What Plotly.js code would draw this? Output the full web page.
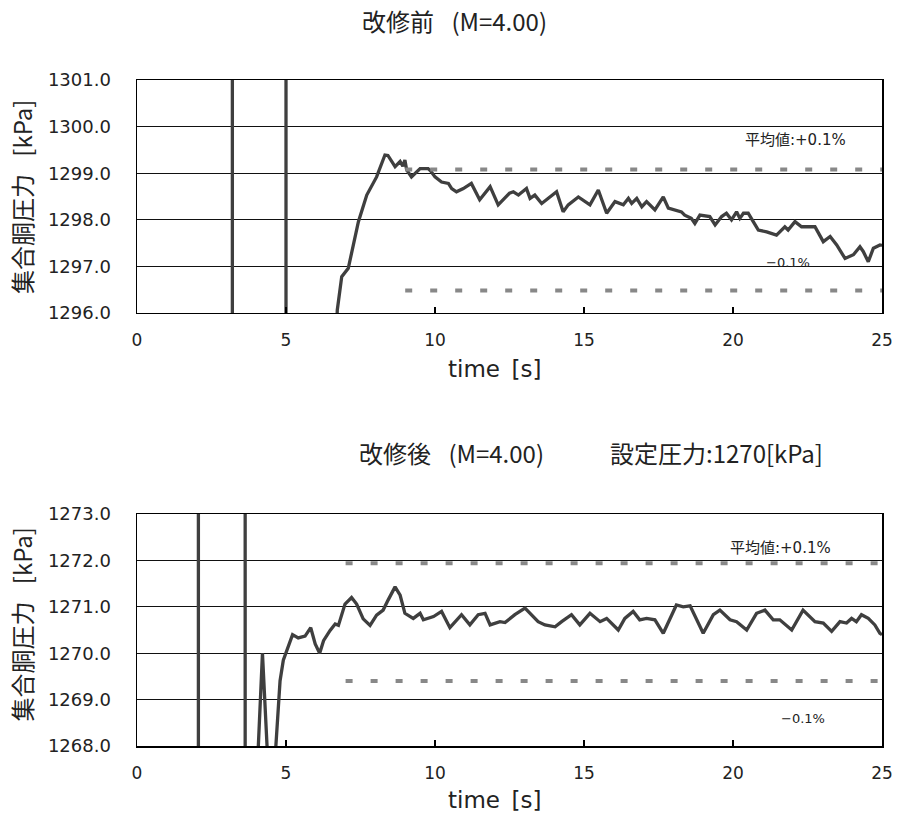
<!DOCTYPE html>
<html>
<head>
<meta charset="utf-8">
<script src="https://cdn.plot.ly/plotly-3.0.1.min.js"></script>
<style>html,body{margin:0;padding:0;background:#fff;}#chart{width:900px;height:823px;}</style>
</head>
<body>
<div id="chart"></div>
<script>
// ---- Top chart (改修前) data ---- (null = gap where the signal is off-scale)
const topTime = [3.2, 3.2, null, 5.0, 5.0, null, 6.70, 6.72, 6.87, 7.09, 7.43, 7.71, 8.04, 8.32, 8.42, 8.66, 8.83, 8.92, 8.99, 9.05, 9.21, 9.5, 9.77, 9.85, 10.0, 10.22, 10.45, 10.56, 10.72, 10.95, 11.22, 11.5, 11.85, 12.12, 12.5, 12.63, 12.8, 13.07, 13.19, 13.35, 13.58, 13.8, 14.08, 14.3, 14.47, 14.81, 15.2, 15.48, 15.76, 16.04, 16.32, 16.49, 16.6, 16.77, 16.94, 17.1, 17.38, 17.66, 17.83, 18.27, 18.38, 18.6, 18.72, 18.89, 19.22, 19.4, 19.62, 19.78, 19.95, 20.12, 20.23, 20.35, 20.51, 20.68, 20.85, 21.13, 21.46, 21.74, 21.85, 22.08, 22.3, 22.52, 22.75, 23.03, 23.26, 23.48, 23.76, 24.04, 24.26, 24.37, 24.54, 24.71, 24.93, 25.0];
const topPressure = [1295.5, 1301.5, null, 1301.5, 1295.5, null, 1295.5, 1296.06, 1296.78, 1296.96, 1297.96, 1298.53, 1298.92, 1299.39, 1299.38, 1299.14, 1299.25, 1299.15, 1299.28, 1299.07, 1298.92, 1299.1, 1299.1, 1299.05, 1298.92, 1298.81, 1298.78, 1298.67, 1298.6, 1298.67, 1298.78, 1298.43, 1298.71, 1298.32, 1298.57, 1298.6, 1298.53, 1298.67, 1298.46, 1298.53, 1298.35, 1298.46, 1298.6, 1298.17, 1298.32, 1298.49, 1298.32, 1298.64, 1298.14, 1298.39, 1298.32, 1298.46, 1298.35, 1298.46, 1298.28, 1298.39, 1298.21, 1298.49, 1298.25, 1298.17, 1298.1, 1298.03, 1297.92, 1298.1, 1298.07, 1297.89, 1298.07, 1298.14, 1298.0, 1298.17, 1298.03, 1298.14, 1298.14, 1297.96, 1297.78, 1297.74, 1297.67, 1297.85, 1297.78, 1297.96, 1297.85, 1297.85, 1297.85, 1297.53, 1297.64, 1297.46, 1297.17, 1297.25, 1297.42, 1297.32, 1297.1, 1297.39, 1297.46, 1297.45];
const topBandTime = [9.0, 25.0];
const topUpper = [1299.08, 1299.08];
const topLower = [1296.48, 1296.48];

// ---- Bottom chart (改修後) data ----
const botTime = [2.06, 2.06, null, 3.63, 3.63, null, 4.03, 4.21, 4.41, null, 4.60, 4.8, 4.91, 5.08, 5.22, 5.41, 5.64, 5.83, 5.98, 6.13, 6.26, 6.48, 6.65, 6.76, 6.98, 7.2, 7.37, 7.59, 7.82, 8.04, 8.26, 8.43, 8.66, 8.83, 8.99, 9.27, 9.5, 9.61, 9.95, 10.22, 10.5, 10.89, 11.17, 11.45, 11.68, 11.85, 12.18, 12.35, 12.68, 13.02, 13.24, 13.46, 13.69, 14.03, 14.25, 14.58, 14.86, 15.2, 15.54, 15.76, 16.15, 16.37, 16.65, 16.87, 17.1, 17.38, 17.66, 18.1, 18.33, 18.56, 19.0, 19.34, 19.56, 19.9, 20.12, 20.46, 20.79, 21.07, 21.35, 21.57, 21.97, 22.35, 22.75, 23.03, 23.31, 23.59, 23.81, 23.98, 24.14, 24.31, 24.54, 24.76, 24.93, 25.0];
const botPressure = [1267.5, 1273.5, null, 1273.5, 1267.5, null, 1267.4, 1270.0, 1267.4, null, 1267.4, 1269.4, 1269.85, 1270.14, 1270.4, 1270.33, 1270.37, 1270.55, 1270.2, 1270.0, 1270.27, 1270.49, 1270.63, 1270.6, 1271.06, 1271.2, 1271.06, 1270.74, 1270.6, 1270.82, 1270.93, 1271.15, 1271.43, 1271.25, 1270.86, 1270.75, 1270.86, 1270.72, 1270.79, 1270.9, 1270.55, 1270.83, 1270.61, 1270.83, 1270.86, 1270.61, 1270.68, 1270.66, 1270.83, 1270.97, 1270.83, 1270.68, 1270.61, 1270.57, 1270.68, 1270.83, 1270.61, 1270.86, 1270.68, 1270.75, 1270.5, 1270.75, 1270.9, 1270.72, 1270.75, 1270.72, 1270.43, 1271.04, 1271.0, 1271.02, 1270.43, 1270.83, 1270.93, 1270.72, 1270.68, 1270.5, 1270.86, 1270.93, 1270.72, 1270.72, 1270.5, 1270.93, 1270.68, 1270.65, 1270.47, 1270.68, 1270.65, 1270.75, 1270.68, 1270.83, 1270.75, 1270.61, 1270.43, 1270.4];
const botBandTime = [7.0, 25.0];
const botUpper = [1271.94, 1271.94];
const botLower = [1269.40, 1269.40];

// ---- Tick labels ----
const xTickVals = [0, 5, 10, 15, 20, 25];
const xTickText = ['0', '5', '10', '15', '20', '25'];
const topYTickVals = [1296, 1297, 1298, 1299, 1300, 1301];
const topYTickText = ['1296.0', '1297.0', '1298.0', '1299.0', '1300.0', '1301.0'];
const botYTickVals = [1268, 1269, 1270, 1271, 1272, 1273];
const botYTickText = ['1268.0', '1269.0', '1270.0', '1271.0', '1272.0', '1273.0'];

const JP = '"Noto Sans CJK JP", "DejaVu Sans", sans-serif';
const MIX = '"DejaVu Sans", "Noto Sans CJK JP", sans-serif';
const NUM = '"DejaVu Sans", sans-serif';
const curveColor = '#3f3f3f';
const bandColor = '#888888';
const bandDash = '7px,18px';

const traces = [
  {x: topTime, y: topPressure, xaxis: 'x', yaxis: 'y', mode: 'lines', connectgaps: false, line: {color: curveColor, width: 3.3}, hoverinfo: 'skip'},
  {x: topBandTime, y: topUpper, xaxis: 'x', yaxis: 'y', mode: 'lines', line: {color: bandColor, width: 4, dash: bandDash}},
  {x: topBandTime, y: topLower, xaxis: 'x', yaxis: 'y', mode: 'lines', line: {color: bandColor, width: 4, dash: bandDash}},
  {x: botTime, y: botPressure, xaxis: 'x2', yaxis: 'y2', mode: 'lines', connectgaps: false, line: {color: curveColor, width: 3.3}, hoverinfo: 'skip'},
  {x: botBandTime, y: botUpper, xaxis: 'x2', yaxis: 'y2', mode: 'lines', line: {color: bandColor, width: 4, dash: bandDash}},
  {x: botBandTime, y: botLower, xaxis: 'x2', yaxis: 'y2', mode: 'lines', line: {color: bandColor, width: 4, dash: bandDash}}
];

function xAxis(anchor) {
  return {anchor: anchor, domain: [0, 1], range: [0, 25], tickvals: xTickVals, ticktext: xTickText,
    ticks: 'inside', ticklen: 6, tickwidth: 1.2, tickcolor: '#000', showgrid: false, zeroline: false,
    showline: true, mirror: true, linecolor: '#000', linewidth: 1.5,
    tickfont: {family: NUM, size: 17, color: '#222'}, ticklabelstandoff: 11};
}
function yAxis(anchor, domain, range, vals, text) {
  return {anchor: anchor, domain: domain, range: range, tickvals: vals, ticktext: text,
    ticks: '', showgrid: true, gridcolor: '#111', gridwidth: 1.2, zeroline: false,
    showline: true, mirror: true, linecolor: '#000', linewidth: 1.5,
    tickfont: {family: NUM, size: 18, color: '#222'}, ticklabelstandoff: 21};
}

const annFont = {family: MIX, size: 15, color: '#222'};
const minusFont = {family: NUM, size: 13, color: '#222'};
const titleFont = {family: JP, size: 24, color: '#222'};
const layout = {
  width: 900, height: 823,
  margin: {l: 137, r: 18, t: 80, b: 77},
  paper_bgcolor: '#fff', plot_bgcolor: '#fff',
  showlegend: false,
  xaxis: xAxis('y'),
  yaxis: yAxis('x', [0.6502, 1], [1296, 1301], topYTickVals, topYTickText),
  xaxis2: xAxis('y2'),
  yaxis2: yAxis('x2', [0, 0.3483], [1268, 1273], botYTickVals, botYTickText),
  annotations: [
    {xref: 'paper', yref: 'paper', x: 0.4265, y: 1.090, text: '改修前\u2002 (M=4.00)', showarrow: false, xanchor: 'center', yanchor: 'middle', font: titleFont},
    {xref: 'paper', yref: 'paper', x: 0.4225, y: 0.4414, text: '改修後\u2002 (M=4.00)', showarrow: false, xanchor: 'center', yanchor: 'middle', font: titleFont},
    {xref: 'paper', yref: 'paper', x: 0.7775, y: 0.4414, text: '設定圧力:1270[kPa]', showarrow: false, xanchor: 'center', yanchor: 'middle', font: titleFont},
    {xref: 'paper', yref: 'paper', x: -0.155, y: 0.8236, text: '集合胴圧力\u2002 [kPa]', textangle: -90, showarrow: false, xanchor: 'center', yanchor: 'middle', font: titleFont},
    {xref: 'paper', yref: 'paper', x: -0.155, y: 0.1817, text: '集合胴圧力\u2002 [kPa]', textangle: -90, showarrow: false, xanchor: 'center', yanchor: 'middle', font: titleFont},
    {xref: 'paper', yref: 'paper', x: 0.4805, y: 0.566, text: 'time\u2002[s]', showarrow: false, xanchor: 'center', yanchor: 'middle', font: {family: NUM, size: 23, color: '#222'}},
    {xref: 'paper', yref: 'paper', x: 0.4805, y: -0.081, text: 'time\u2002[s]', showarrow: false, xanchor: 'center', yanchor: 'middle', font: {family: NUM, size: 23, color: '#222'}},
    {xref: 'x', yref: 'y', x: 23.86, y: 1299.71, text: '平均値:+0.1%', showarrow: false, xanchor: 'right', yanchor: 'middle', font: annFont},
    {xref: 'x', yref: 'y', x: 22.65, y: 1297.09, text: '−0.1%', showarrow: false, xanchor: 'right', yanchor: 'middle', font: minusFont},
    {xref: 'x2', yref: 'y2', x: 23.36, y: 1272.27, text: '平均値:+0.1%', showarrow: false, xanchor: 'right', yanchor: 'middle', font: annFont},
    {xref: 'x2', yref: 'y2', x: 23.15, y: 1268.60, text: '−0.1%', showarrow: false, xanchor: 'right', yanchor: 'middle', font: minusFont}
  ]
};

Plotly.newPlot('chart', traces, layout, {displayModeBar: false, staticPlot: true});
</script>
</body>
</html>
